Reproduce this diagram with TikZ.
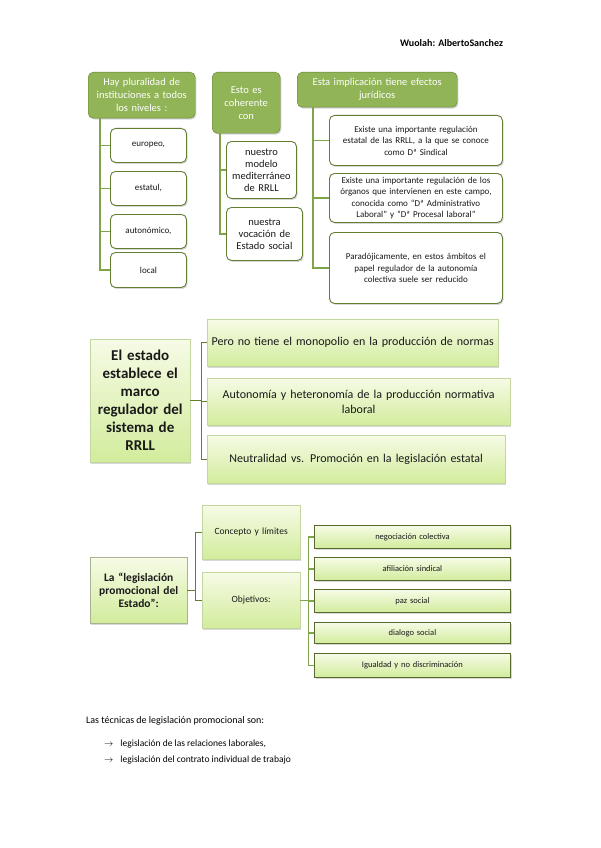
\documentclass[tikz,border=0pt]{standalone}
\usepackage{fontspec}
\setmainfont{Carlito}
\usetikzlibrary{shadows}
\definecolor{hdr}{RGB}{144,180,86}
\definecolor{hdrline}{RGB}{100,128,52}
\definecolor{kidline}{RGB}{98,126,48}
\definecolor{connc}{RGB}{128,164,74}
\definecolor{gtop}{RGB}{246,251,230}
\definecolor{gbot}{RGB}{210,236,156}
\definecolor{gline}{RGB}{196,214,160}
\definecolor{dline}{RGB}{86,105,47}
\definecolor{txt}{RGB}{25,25,25}
\tikzset{
 shad/.style={drop shadow={shadow xshift=1.2pt,shadow yshift=-1.5pt,opacity=0.3}},
 hdrbox/.style={draw=hdrline, fill=hdr, rounded corners=5pt, text=white, align=center, inner sep=2pt, anchor=north west, shad, font=\fontsize{10.5}{13}\selectfont},
 kidbox/.style={draw=kidline, fill=white, rounded corners=5pt, text=txt, align=center, inner sep=2pt, anchor=north west, line width=0.9pt, shad, font=\fontsize{9}{11.5}\selectfont},
 gbox/.style={draw=gline, top color=gtop, bottom color=gbot, align=center, inner sep=2pt, anchor=north west, shad, text=txt},
 dbox/.style={gbox, draw=dline, line width=0.9pt, font=\fontsize{8.5}{10}\selectfont},
 conn/.style={draw=connc, line width=1.4pt},
 plain/.style={inner sep=0pt, text=black},
}
\begin{document}
\begin{tikzpicture}[x=1pt,y=-1pt]
\useasboundingbox[fill=white] (0,0) rectangle (600,848);

\node[plain, anchor=west, font=\fontsize{10}{12}\selectfont\bfseries] (wu) at (400,43) {Wuolah: AlbertoSanchez};

% ---------- top section ----------
\node[hdrbox, minimum width=107pt, minimum height=46pt, text width=103pt] (ha) at (88,72)
  {Hay pluralidad de\\instituciones a todos\\los niveles :};
\node[kidbox, minimum width=76pt, minimum height=34pt, text width=72pt] (ka1) at (110,128) {europeo,};
\node[kidbox, minimum width=76pt, minimum height=34pt, text width=72pt] (ka2) at (110,171) {estatul,};
\node[kidbox, minimum width=76pt, minimum height=34pt, text width=72pt] (ka3) at (110,214) {autonómico,};
\node[kidbox, minimum width=76pt, minimum height=35pt, text width=72pt] (ka4) at (110,252) {local};
\foreach \k in {ka1,ka2,ka3,ka4}
  \draw[conn] (ha.south west) ++(12,0) |- (\k.west);

\node[hdrbox, minimum width=68pt, minimum height=61pt, text width=64pt] (hb) at (212,72)
  {Esto es\\coherente\\con};
\node[kidbox, minimum width=70pt, minimum height=57pt, text width=68pt, inner xsep=1pt, font=\fontsize{10.5}{12}\selectfont] (kb1) at (226,141)
  {nuestro\\modelo\\mediterráneo\\de RRLL};
\node[kidbox, minimum width=76pt, minimum height=53pt, text width=72pt, font=\fontsize{10.5}{12}\selectfont] (kb2) at (226,207)
  {nuestra\\vocación de\\Estado social};
\foreach \k in {kb1,kb2}
  \draw[conn] (hb.south west) ++(8,0) |- (\k.west);

\node[hdrbox, minimum width=160pt, minimum height=35pt, text width=156pt] (hc) at (297,72)
  {Esta implicación tiene efectos\\jurídicos};
\node[kidbox, minimum width=173pt, minimum height=50pt, text width=169pt] (kc1) at (329,115)
  {Existe una importante regulación\\estatal de las RRLL, a la que se conoce\\como Dª Sindical};
\node[kidbox, minimum width=173pt, minimum height=49pt, text width=169pt] (kc2) at (329,173)
  {Existe una importante regulación de los\\órganos que intervienen en este campo,\\conocida como “Dª Administrativo\\Laboral” y “Dª Procesal laboral”};
\node[kidbox, minimum width=173pt, minimum height=71pt, text width=169pt] (kc3) at (329,232)
  {Paradójicamente, en estos ámbitos el\\papel regulador de la autonomía\\colectiva suele ser reducido};
\foreach \k in {kc1,kc2,kc3}
  \draw[conn] (hc.south west) ++(16,0) |- (\k.west);

% ---------- middle section ----------
\node[gbox, minimum width=100pt, minimum height=123pt, text width=96pt, font=\fontsize{15}{18}\selectfont\bfseries] (big) at (90,339)
  {El estado\\establece el\\marco\\regulador del\\sistema de\\RRLL};
\node[gbox, minimum width=291pt, minimum height=47pt, text width=287pt, font=\fontsize{12}{14.5}\selectfont] (m1) at (207,319)
  {Pero no tiene el monopolio en la producción de normas};
\node[gbox, minimum width=303pt, minimum height=47pt, text width=299pt, font=\fontsize{12}{14.5}\selectfont] (m2) at (207,378)
  {Autonomía y heteronomía de la producción normativa\\laboral};
\node[gbox, minimum width=298pt, minimum height=48pt, text width=294pt, font=\fontsize{12}{14.5}\selectfont] (m3) at (207,435)
  {Neutralidad vs. Promoción en la legislación estatal};
\foreach \k in {m1,m2,m3}
  \draw[conn, draw=kidline] (big.east) -- ++(11,0) |- (\k.west);

% ---------- bottom section ----------
\node[gbox, draw=gline!60!gray, minimum width=97pt, minimum height=66pt, text width=93pt, font=\fontsize{11.5}{13.3}\selectfont\bfseries] (la) at (90,557)
  {La “legislación\\promocional del\\Estado”:};
\node[gbox, minimum width=98pt, minimum height=54pt, text width=94pt, font=\fontsize{9.5}{11.5}\selectfont] (co) at (202,505)
  {Concepto y límites};
\node[gbox, minimum width=98pt, minimum height=56pt, text width=94pt, font=\fontsize{9.5}{11.5}\selectfont] (ob) at (202,572)
  {Objetivos:};
\foreach \k in {co,ob}
  \draw[conn, draw=kidline] (la.east) -- ++(8,0) |- (\k.west);

\node[dbox, minimum width=196pt, minimum height=23pt, text width=192pt] (r1) at (314,525) {negociación colectiva};
\node[dbox, minimum width=196pt, minimum height=23pt, text width=192pt] (r2) at (314,557) {afiliación sindical};
\node[dbox, minimum width=196pt, minimum height=23pt, text width=192pt] (r3) at (314,589) {paz social};
\node[dbox, minimum width=196pt, minimum height=21pt, text width=192pt] (r4) at (314,622) {dialogo social};
\node[dbox, minimum width=196pt, minimum height=24pt, text width=192pt] (r5) at (314,653) {Igualdad y no discriminación};
\foreach \k in {r1,r2,r3,r4,r5}
  \draw[conn, line width=1.1pt] (ob.east) -- ++(8,0) |- (\k.west);

% ---------- bottom text ----------
\node[plain, anchor=west, font=\fontsize{10}{12}\selectfont] (t1) at (86,721) {Las técnicas de legislación promocional son:};
\node[plain, anchor=west, font=\fontsize{9.5}{12}\selectfont] (a1) at (104,744) {$\rightarrow$\hspace{7pt}legislación de las relaciones laborales,};
\node[plain, anchor=west, font=\fontsize{9.5}{12}\selectfont] (a2) at (104,760) {$\rightarrow$\hspace{7pt}legislación del contrato individual de trabajo};
\end{tikzpicture}
\end{document}
